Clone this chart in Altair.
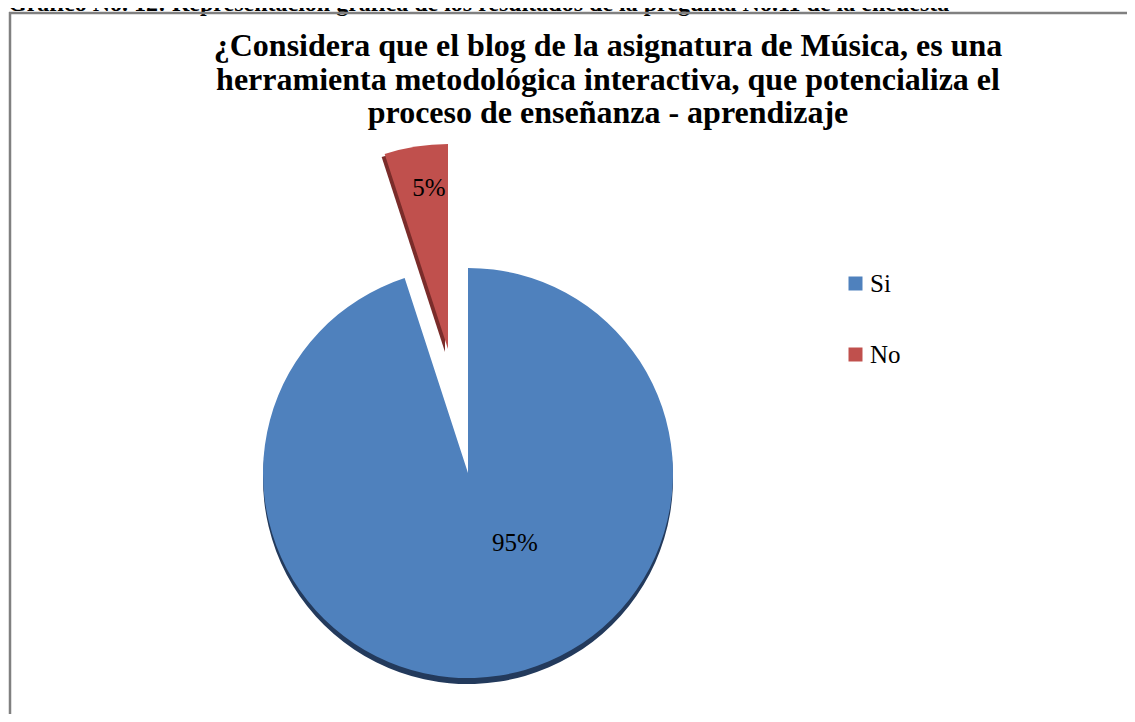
import altair as alt
import pandas as pd

# ---- data ----
categorias = ["Si", "No"]
porcentajes = [95, 5]
etiquetas = ["95%", "5%"]
orden = [0, 1]
colores = ["#4F81BD", "#C0504D"]
sombras = ["#233A5C", "#7A2C2A"]

titulo = [
    "¿Considera que el blog de la asignatura de Música, es una",
    "herramienta metodológica interactiva, que potencializa el",
    "proceso de enseñanza - aprendizaje",
]
leyenda_titulo = "Gráfico No. 12: Representación gráfica de los resultados de la pregunta No.11 de la encuesta"

df = pd.DataFrame({
    "categoria": categorias,
    "valor": porcentajes,
    "etiqueta": etiquetas,
    "orden": orden,
})

FONT = "Liberation Serif"
W, H = 1119, 706
R = 205

base = alt.Chart(df)
theta = alt.Theta("valor:Q", stack=True)
order = alt.Order("orden:Q")


def only(cat):
    return alt.condition(alt.datum.categoria == cat, alt.value(1), alt.value(0))


# shadows (3D depth)
sombra_si = base.mark_arc(radius=R, color=sombras[0]).encode(
    theta=theta, order=order, opacity=only("Si"),
    x=alt.value(460), y=alt.value(471),
)
sombra_no = base.mark_arc(radius=R, color=sombras[1]).encode(
    theta=theta, order=order, opacity=only("No"),
    x=alt.value(437), y=alt.value(344),
)

# main slices
slice_si = base.mark_arc(radius=R).encode(
    theta=theta, order=order, opacity=only("Si"),
    x=alt.value(460), y=alt.value(465),
    color=alt.Color(
        "categoria:N",
        scale=alt.Scale(domain=categorias, range=colores),
        legend=alt.Legend(
            title=None, orient="none", legendX=835, legendY=263,
            symbolType="square", symbolSize=196, symbolOpacity=1,
            symbolStrokeWidth=0,
            labelFont=FONT, labelFontSize=25, labelColor="black",
            labelOffset=2, rowPadding=45, padding=0,
        ),
    ),
)
slice_no = base.mark_arc(radius=R, color=colores[1]).encode(
    theta=theta, order=order, opacity=only("No"),
    x=alt.value(440), y=alt.value(341),
)

lab_si = base.transform_filter(alt.datum.categoria == "Si").mark_text(
    font=FONT, fontSize=25, color="black", align="center", baseline="middle"
).encode(text="etiqueta:N", x=alt.value(507), y=alt.value(535))

lab_no = base.transform_filter(alt.datum.categoria == "No").mark_text(
    font=FONT, fontSize=25, color="black", align="center", baseline="middle"
).encode(text="etiqueta:N", x=alt.value(421), y=alt.value(180))

title_layer = alt.Chart(pd.DataFrame({"t": [0]})).mark_text(
    text=titulo, font=FONT, fontSize=32, fontWeight="bold", color="black",
    align="center", baseline="alphabetic", lineHeight=33.5,
).encode(x=alt.value(600), y=alt.value(48))

caption_layer = alt.Chart(pd.DataFrame({"t": [0]})).mark_text(
    text=leyenda_titulo, font=FONT, fontSize=24, fontWeight="bold", color="black",
    align="left", baseline="alphabetic",
).encode(x=alt.value(0), y=alt.value(3))

border_top = alt.Chart(pd.DataFrame({"t": [0]})).mark_rule(
    color="#808080", strokeWidth=2.5
).encode(x=alt.value(1), x2=alt.value(W), y=alt.value(5))
border_left = alt.Chart(pd.DataFrame({"t": [0]})).mark_rule(
    color="#808080", strokeWidth=2.5
).encode(x=alt.value(2), y=alt.value(4), y2=alt.value(H))

chart = alt.layer(
    caption_layer, border_top, border_left,
    sombra_si, sombra_no, slice_si, slice_no,
    lab_si, lab_no, title_layer,
).properties(
    width=W, height=H, autosize=alt.AutoSizeParams(type="none"), padding=0,
    background="white",
).configure_view(strokeWidth=0).configure_legend(
    labelFont=FONT, labelFontSize=25, labelColor="black"
)

chart.save("out.html", embed_options={"renderer": "svg", "actions": False})
